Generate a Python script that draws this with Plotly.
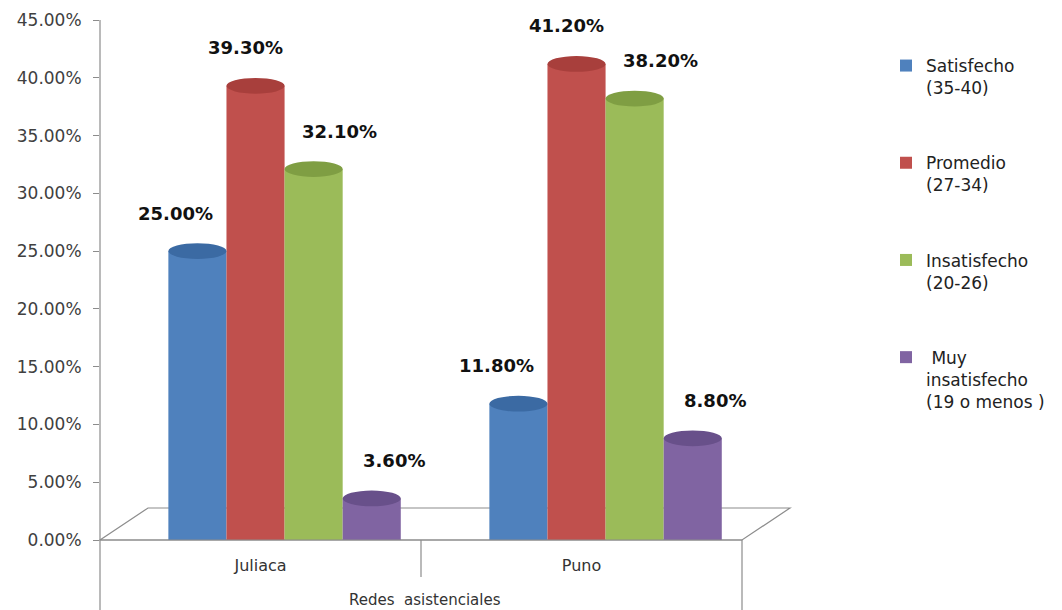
import plotly.graph_objects as go

# Satisfaction levels by health network
redes = ["Juliaca", "Puno"]
niveles = [
    "Satisfecho<br>(35-40)",
    "Promedio<br>(27-34)",
    "Insatisfecho<br>(20-26)",
    " Muy<br>insatisfecho<br>(19 o menos )",
]
satisfecho = [0.250, 0.118]
promedio = [0.393, 0.412]
insatisfecho = [0.321, 0.382]
muy_insatisfecho = [0.036, 0.088]
y_ticks = [0, 0.05, 0.10, 0.15, 0.20, 0.25, 0.30, 0.35, 0.40, 0.45]

series = [satisfecho, promedio, insatisfecho, muy_insatisfecho]
colores = ["#4F81BD", "#C0504D", "#9BBB59", "#8064A2"]
tapas = ["#3b6aa3", "#a83f3c", "#7f9e43", "#68508a"]
label_dx = [-22, -10, 26, 22]

ancho = 0.181
inicio = -0.287

fig = go.Figure()
shapes = []
annotations = []

for i, (vals, nombre, color) in enumerate(zip(series, niveles, colores)):
    off = inicio + i * ancho
    fig.add_trace(go.Bar(
        x=redes, y=vals, name=nombre,
        marker=dict(color=color, line=dict(width=0)),
        width=ancho, offset=off,
        legendgroup=f"g{i}",
        hoverinfo="skip",
    ))
    for k, v in enumerate(vals):
        # elliptical cap on each cylinder
        shapes.append(dict(
            type="circle", xref="x", yref="y",
            x0=k + off, x1=k + off + ancho,
            y0=v - 0.0068, y1=v + 0.0068,
            fillcolor=tapas[i], line=dict(width=0), layer="above",
        ))
        annotations.append(dict(
            x=k + off + ancho / 2, y=v, xref="x", yref="y",
            text=f"{v * 100:.2f}%", showarrow=False,
            xshift=label_dx[i], yshift=38,
            font=dict(family="DejaVu Sans", size=18, color="#111111", weight="bold"),
        ))

# plot-area pixel helpers (plot area spans x 100..742, y 20..540)
def px(x):
    return (x - 100) / 642

def py(y):
    return (540 - y) / 520

axis_col = "#8c8c8c"
# 3D floor
shapes.insert(0, dict(
    type="path", xref="paper", yref="paper",
    path=f"M {px(100)} {py(540)} L {px(148)} {py(508)} L {px(790)} {py(508)} L {px(742)} {py(540)} Z",
    line=dict(color=axis_col, width=1.2), fillcolor="rgba(0,0,0,0)", layer="below",
))
# extended value axis and category dividers
shapes += [
    dict(type="line", xref="paper", yref="paper", x0=0, x1=0, y0=1, y1=py(610),
         line=dict(color=axis_col, width=1.2)),
    dict(type="line", xref="paper", yref="paper", x0=0, x1=px(742), y0=0, y1=0,
         line=dict(color=axis_col, width=1.2)),
    dict(type="line", xref="paper", yref="paper", x0=0.5, x1=0.5, y0=0, y1=py(577),
         line=dict(color=axis_col, width=1.2)),
    dict(type="line", xref="paper", yref="paper", x0=1, x1=1, y0=0, y1=py(610),
         line=dict(color=axis_col, width=1.2)),
]
annotations.append(dict(
    x=px(425), y=py(600), xref="paper", yref="paper", text="Redes  asistenciales",
    showarrow=False, xanchor="center", yanchor="middle",
    font=dict(family="DejaVu Sans", size=15, color="#333333"),
))

fig.update_layout(
    width=1062, height=610,
    margin=dict(l=100, r=320, t=20, b=70, autoexpand=False),
    paper_bgcolor="white", plot_bgcolor="white",
    barmode="overlay",
    showlegend=True,
    legend=dict(
        x=px(886), y=py(48), xanchor="left", yanchor="top",
        font=dict(family="DejaVu Sans", size=17, color="#222222"),
        tracegroupgap=50, valign="top", itemwidth=30,
        bgcolor="rgba(0,0,0,0)",
    ),
    xaxis=dict(
        range=[-0.5, 1.5], showline=False, showgrid=False, ticks="",
        ticklabelstandoff=14,
        tickfont=dict(family="DejaVu Sans", size=16, color="#333333"),
        fixedrange=True,
    ),
    yaxis=dict(
        range=[0, 0.45], tickvals=y_ticks, tickformat=".2%",
        showline=False, showgrid=False, zeroline=False,
        ticks="outside", ticklen=6, tickcolor=axis_col,
        ticklabelstandoff=8,
        tickfont=dict(family="DejaVu Sans", size=17, color="#404040"),
    ),
    shapes=shapes,
    annotations=annotations,
)

fig.write_html("out.html")
